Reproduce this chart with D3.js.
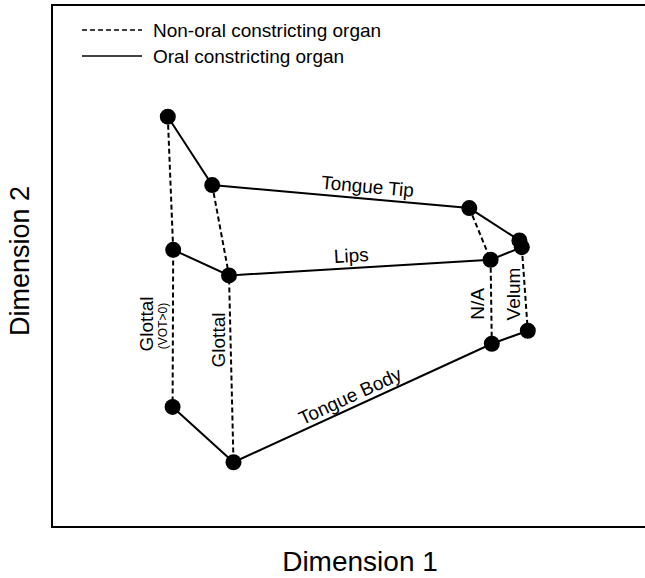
<!DOCTYPE html>
<html>
<head>
<meta charset="utf-8">
<script src="https://cdn.jsdelivr.net/npm/d3@7"></script>
<style>
  body { margin: 0; background: #fff; }
  text { font-family: "Liberation Sans", Arial, sans-serif; fill: #000; }
</style>
</head>
<body>
<div id="chart"></div>
<script>
(function () {

  var w = 645;
  var h = 578;

  // plot frame (right side runs past the window)
  var margin = { top: 5, left: 52, bottom: 51 };

  // points, Dimension 1 / Dimension 2 (0-100 units)
  var pointIds = ["gv_tt", "g_tt", "gv_li", "g_li", "gv_tb", "g_tb", "na_tt", "ve_tt", "ve_li", "na_li", "na_tb", "ve_tb"];
  var dim1 = [19.3, 26.7, 20.2, 29.5, 20.1, 30.25, 69.55, 77.9, 78.3, 73.1, 73.3, 79.3];
  var dim2 = [78.6, 65.5, 53.1, 48.2, 23.0, 12.4, 61.1, 54.9, 53.6, 51.2, 35.1, 37.6];

  // oral constricting organ (solid) rows
  var solidRows = [
    ["gv_tt", "g_tt", "na_tt", "ve_tt"],
    ["gv_li", "g_li", "na_li", "ve_li"],
    ["gv_tb", "g_tb", "na_tb", "ve_tb"]
  ];
  // non-oral constricting organ (dashed) columns
  var dashedCols = [
    ["gv_tt", "gv_li", "gv_tb"],
    ["g_tt", "g_li", "g_tb"],
    ["na_tt", "na_li", "na_tb"],
    ["ve_tt", "ve_li", "ve_tb"]
  ];

  var rowLabels = ["Tongue Tip", "Lips", "Tongue Body"];
  var legendLabels = ["Non-oral constricting organ", "Oral constricting organ"];

  var x = d3.scaleLinear().domain([0, 100]).range([margin.left, margin.left + 600]);
  var y = d3.scaleLinear().domain([0, 100]).range([h - margin.bottom, margin.top]);

  var pts = {};
  pointIds.forEach(function (id, i) {
    pts[id] = { id: id, x: x(dim1[i]), y: y(dim2[i]) };
  });

  var svg = d3.select("#chart")
    .append("svg")
    .attr("width", w)
    .attr("height", h);

  // frame
  svg.append("rect")
    .attr("x", margin.left)
    .attr("y", margin.top)
    .attr("width", 700)
    .attr("height", (h - margin.bottom) - margin.top)
    .style("fill", "none")
    .style("stroke", "#000")
    .style("stroke-width", 2);

  var line = d3.line()
    .x(function (d) { return pts[d].x; })
    .y(function (d) { return pts[d].y; });

  svg.selectAll(".dashed")
    .data(dashedCols)
    .enter()
    .append("path")
    .attr("class", "dashed")
    .attr("d", line)
    .style("fill", "none")
    .style("stroke", "#000")
    .style("stroke-width", 2)
    .style("stroke-dasharray", "5,3");

  svg.selectAll(".solid")
    .data(solidRows)
    .enter()
    .append("path")
    .attr("class", "solid")
    .attr("d", line)
    .style("fill", "none")
    .style("stroke", "#000")
    .style("stroke-width", 2);

  svg.selectAll(".dot")
    .data(pointIds.slice().reverse())
    .enter()
    .append("circle")
    .attr("class", "dot")
    .attr("cx", function (d) { return pts[d].x; })
    .attr("cy", function (d) { return pts[d].y; })
    .attr("r", 8)
    .style("fill", "#000");

  // row labels along their middle segment
  function segLabel(a, b, txt, t, off, size) {
    var p = pts[a], q = pts[b];
    var cx = p.x + (q.x - p.x) * t;
    var cy = p.y + (q.y - p.y) * t;
    var ang = Math.atan2(q.y - p.y, q.x - p.x) * 180 / Math.PI;
    svg.append("text")
      .attr("transform", "translate(" + cx + "," + cy + ") rotate(" + ang + ") translate(0," + (-off) + ")")
      .attr("text-anchor", "middle")
      .style("font-size", size + "px")
      .text(txt);
  }
  segLabel("g_tt", "na_tt", rowLabels[0], 0.6, 6, 19);
  segLabel("g_li", "na_li", rowLabels[1], 0.47, 6, 19);
  segLabel("g_tb", "na_tb", rowLabels[2], 0.47, 5, 19);

  // column labels, vertical
  function vLabel(cx, cy, txt, size) {
    return svg.append("text")
      .attr("transform", "translate(" + cx + "," + cy + ") rotate(-90)")
      .attr("text-anchor", "middle")
      .style("font-size", size + "px")
      .text(txt);
  }
  vLabel(153, 324, "Glottal", 19);
  vLabel(167, 326, "(VOT>0)", 12);
  vLabel(225, 340, "Glottal", 19);
  vLabel(484, 304, "N/A", 19);
  vLabel(520, 294, "Velum", 19);

  // legend
  var legend = svg.selectAll(".legend")
    .data(legendLabels)
    .enter()
    .append("g")
    .attr("class", "legend")
    .attr("transform", function (d, i) { return "translate(82," + (30 + i * 26) + ")"; });

  legend.append("line")
    .attr("x1", 0).attr("x2", 60)
    .style("stroke", "#000")
    .style("stroke-width", 1.5)
    .style("stroke-dasharray", function (d, i) { return i === 0 ? "5,3" : null; });

  legend.append("text")
    .attr("x", 71)
    .attr("y", 7)
    .style("font-size", "19px")
    .text(function (d) { return d; });

  // axis titles
  svg.append("text")
    .attr("x", 360)
    .attr("y", 571)
    .attr("text-anchor", "middle")
    .style("font-size", "28px")
    .text("Dimension 1");

  svg.append("text")
    .attr("transform", "translate(29,261) rotate(-90)")
    .attr("text-anchor", "middle")
    .style("font-size", "27px")
    .text("Dimension 2");

})()
</script>
</body>
</html>
